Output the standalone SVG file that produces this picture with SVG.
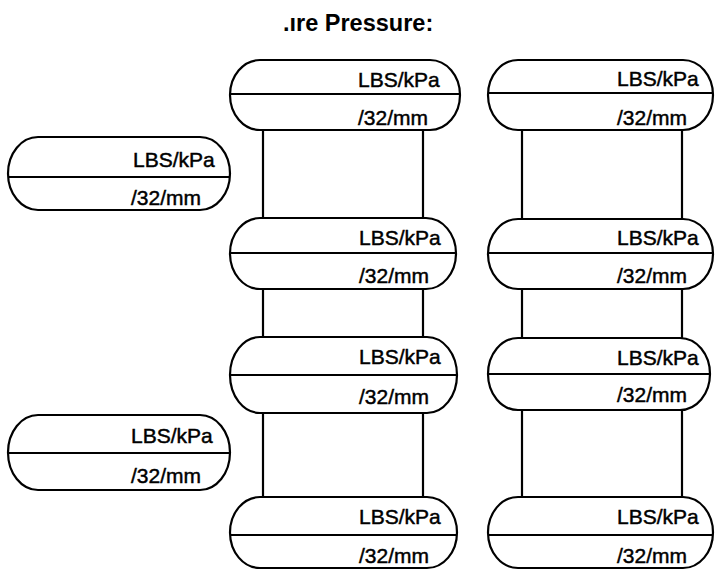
<svg xmlns="http://www.w3.org/2000/svg" width="719" height="571" viewBox="0 0 719 571">
<style>
.shape{fill:#fff;stroke:#000;stroke-width:2.2}
.div{stroke:#000;stroke-width:2.2}
.lbl{font-family:"Liberation Sans",Arial,sans-serif;font-size:21px;fill:#000;stroke:#000;stroke-width:0.45}
.title{font-family:"Liberation Sans",Arial,sans-serif;font-size:23.5px;font-weight:bold;fill:#000}
.stem{stroke:#000;stroke-width:2.2;fill:none}
</style>
<rect width="719" height="571" fill="#fff"/>
<text class="title" x="283" y="31">.ıre Pressure:</text>
<g id="connectors">
<line class="stem" x1="263" y1="130" x2="263" y2="218"/>
<line class="stem" x1="423" y1="130" x2="423" y2="218"/>
<line class="stem" x1="263" y1="289" x2="263" y2="337"/>
<line class="stem" x1="423" y1="289" x2="423" y2="337"/>
<line class="stem" x1="263" y1="413" x2="263" y2="497"/>
<line class="stem" x1="423" y1="413" x2="423" y2="497"/>
<line class="stem" x1="522" y1="130" x2="522" y2="219"/>
<line class="stem" x1="682" y1="130" x2="682" y2="219"/>
<line class="stem" x1="522" y1="289" x2="522" y2="338"/>
<line class="stem" x1="682" y1="289" x2="682" y2="338"/>
<line class="stem" x1="522" y1="410" x2="522" y2="497"/>
<line class="stem" x1="682" y1="410" x2="682" y2="497"/>
</g>
<g id="c1r1">
<rect class="shape" x="230" y="60" width="230" height="70" rx="30" ry="35"/>
<line class="div" x1="230" y1="94" x2="460" y2="94"/>
<text class="lbl" x="358" y="87">LBS/kPa</text>
<text class="lbl" x="358" y="125">/32/mm</text>
</g>
<g id="c1r2">
<rect class="shape" x="230" y="218" width="226" height="71" rx="30" ry="35.5"/>
<line class="div" x1="230" y1="253" x2="456" y2="253"/>
<text class="lbl" x="359" y="245">LBS/kPa</text>
<text class="lbl" x="359" y="283">/32/mm</text>
</g>
<g id="c1r3">
<rect class="shape" x="230" y="337" width="227" height="76" rx="30" ry="38"/>
<line class="div" x1="230" y1="375" x2="457" y2="375"/>
<text class="lbl" x="359" y="364">LBS/kPa</text>
<text class="lbl" x="359" y="404">/32/mm</text>
</g>
<g id="c1r4">
<rect class="shape" x="230" y="497" width="227" height="71" rx="30" ry="35.5"/>
<line class="div" x1="230" y1="535" x2="457" y2="535"/>
<text class="lbl" x="359" y="524">LBS/kPa</text>
<text class="lbl" x="359" y="563">/32/mm</text>
</g>
<g id="c2r1">
<rect class="shape" x="488" y="60" width="225" height="70" rx="30" ry="35"/>
<line class="div" x1="488" y1="93" x2="713" y2="93"/>
<text class="lbl" x="617" y="86">LBS/kPa</text>
<text class="lbl" x="617" y="125">/32/mm</text>
</g>
<g id="c2r2">
<rect class="shape" x="488" y="219" width="225" height="70" rx="30" ry="35"/>
<line class="div" x1="488" y1="253" x2="713" y2="253"/>
<text class="lbl" x="617" y="245">LBS/kPa</text>
<text class="lbl" x="617" y="283">/32/mm</text>
</g>
<g id="c2r3">
<rect class="shape" x="488" y="338" width="222" height="72" rx="30" ry="36"/>
<line class="div" x1="488" y1="374" x2="710" y2="374"/>
<text class="lbl" x="617" y="365">LBS/kPa</text>
<text class="lbl" x="617" y="402">/32/mm</text>
</g>
<g id="c2r4">
<rect class="shape" x="488" y="497" width="225" height="71" rx="30" ry="35.5"/>
<line class="div" x1="488" y1="535" x2="713" y2="535"/>
<text class="lbl" x="617" y="524">LBS/kPa</text>
<text class="lbl" x="617" y="563">/32/mm</text>
</g>
<g id="l1">
<rect class="shape" x="8" y="137" width="222" height="73" rx="30" ry="36.5"/>
<line class="div" x1="8" y1="177" x2="230" y2="177"/>
<text class="lbl" x="133" y="167">LBS/kPa</text>
<text class="lbl" x="131" y="205">/32/mm</text>
</g>
<g id="l2">
<rect class="shape" x="8" y="415" width="222" height="75" rx="30" ry="37.5"/>
<line class="div" x1="8" y1="453" x2="230" y2="453"/>
<text class="lbl" x="131" y="443">LBS/kPa</text>
<text class="lbl" x="131" y="483">/32/mm</text>
</g>
</svg>
